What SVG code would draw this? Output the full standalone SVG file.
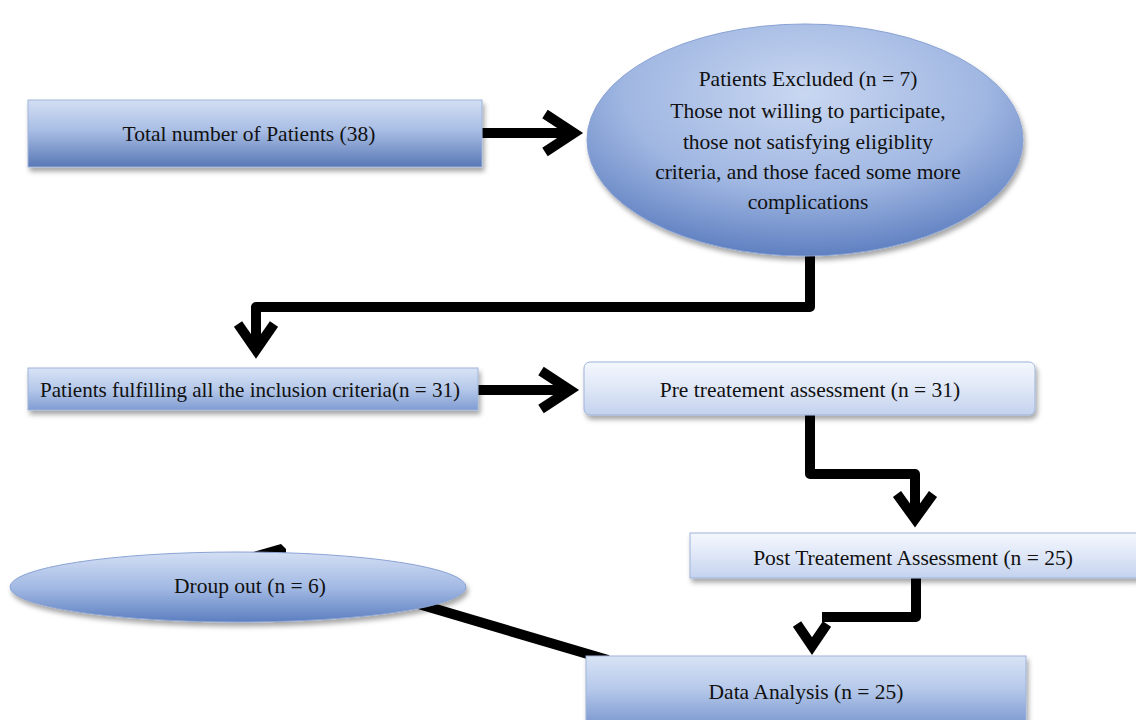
<svg xmlns="http://www.w3.org/2000/svg" width="1136" height="720" viewBox="0 0 1136 720">
<defs>
<linearGradient id="gDark" x1="0" y1="0" x2="0" y2="1">
<stop offset="0" stop-color="#d3def3"/>
<stop offset="0.45" stop-color="#a9bee5"/>
<stop offset="1" stop-color="#5877b5"/>
</linearGradient>
<linearGradient id="gMid" x1="0" y1="0" x2="0" y2="1">
<stop offset="0" stop-color="#d8e3f5"/>
<stop offset="0.5" stop-color="#b6c9ea"/>
<stop offset="1" stop-color="#809cd2"/>
</linearGradient>
<linearGradient id="gLight" x1="0" y1="0" x2="0" y2="1">
<stop offset="0" stop-color="#f4f7fd"/>
<stop offset="0.5" stop-color="#dfe7f7"/>
<stop offset="1" stop-color="#c3d2ee"/>
</linearGradient>
<radialGradient id="gEll" cx="0.5" cy="0.3" r="0.75">
<stop offset="0" stop-color="#c9d7f1"/>
<stop offset="0.55" stop-color="#a0b7e2"/>
<stop offset="1" stop-color="#5476bb"/>
</radialGradient>
<linearGradient id="gEll2" x1="0" y1="0" x2="0" y2="1">
<stop offset="0" stop-color="#d3def3"/>
<stop offset="0.5" stop-color="#a3bae4"/>
<stop offset="1" stop-color="#5d7fc0"/>
</linearGradient>
<filter id="sh" x="-10%" y="-20%" width="120%" height="150%">
<feDropShadow dx="2" dy="4" stdDeviation="2.5" flood-color="#000" flood-opacity="0.35"/>
</filter>
</defs>
<style>
.t{font-family:"Liberation Serif","Times New Roman",serif;font-size:21.5px;fill:#111;text-anchor:middle;dominant-baseline:central}
.c{fill:none;stroke:#000;stroke-width:10;stroke-linejoin:round}
.h{fill:none;stroke:#000;stroke-width:10;stroke-linejoin:miter;stroke-linecap:butt}
.bx{stroke:#9fb3da;stroke-width:1}
</style>
<rect width="1136" height="720" fill="#fff"/>

<g id="connectors">
<line class="c" x1="482" y1="133" x2="570" y2="133"/>
<polyline class="h" points="545,114 574,133 545,152"/>
<path class="c" d="M810,250 V307 H256 V345"/>
<polyline class="h" points="238,324 256,350 274,324"/>
<line class="c" x1="478" y1="390" x2="566" y2="390"/>
<polyline class="h" points="541,371 570,390 541,409"/>
<path class="c" d="M810,415 V474 H915 V514"/>
<polyline class="h" points="897,494 915,519 933,494"/>
<path class="c" d="M916,578 V617 H822"/>
<polyline class="h" points="797,624 812,646 827,624"/>
<line class="c" x1="608" y1="660" x2="280" y2="563"/>
<polygon points="250,553 281,544 286,549 286,556 250,556" fill="#000"/>
</g>

<g id="n1">
<rect class="bx" x="28" y="100" width="454" height="67" fill="url(#gDark)" filter="url(#sh)"/>
<text class="t" x="249" y="134">Total number of Patients (38)</text>
</g>

<g id="n2">
<ellipse cx="805" cy="140" rx="218" ry="116" fill="url(#gEll)" stroke="#8aa3d4" stroke-width="1" filter="url(#sh)"/>
<text class="t" x="808" y="79">Patients Excluded (n = 7)</text>
<text class="t" x="808" y="111">Those not willing to participate,</text>
<text class="t" x="808" y="142">those not satisfying eligiblity</text>
<text class="t" x="808" y="172">criteria, and those faced some more</text>
<text class="t" x="808" y="202">complications</text>
</g>

<g id="n3">
<rect class="bx" x="28" y="368" width="450" height="42" fill="url(#gMid)" filter="url(#sh)"/>
<text class="t" x="250" y="390" textLength="420" lengthAdjust="spacingAndGlyphs">Patients fulfilling all the inclusion criteria(n = 31)</text>
</g>

<g id="n4">
<rect class="bx" x="584" y="362" width="451" height="53" rx="6" fill="url(#gLight)" filter="url(#sh)"/>
<text class="t" x="810" y="390">Pre treatement assessment (n = 31)</text>
</g>

<g id="n5">
<rect class="bx" x="690" y="533" width="448" height="45" fill="url(#gLight)" filter="url(#sh)"/>
<text class="t" x="913" y="558">Post Treatement Assessment (n = 25)</text>
</g>

<g id="n6">
<ellipse cx="238" cy="587" rx="228" ry="35" fill="url(#gEll2)" stroke="#8aa3d4" stroke-width="1" filter="url(#sh)"/>
<text class="t" x="250" y="586">Droup out (n = 6)</text>
</g>

<g id="n7">
<rect class="bx" x="586" y="656" width="440" height="66" fill="url(#gMid)" filter="url(#sh)"/>
<text class="t" x="806" y="692">Data Analysis (n = 25)</text>
</g>
</svg>
